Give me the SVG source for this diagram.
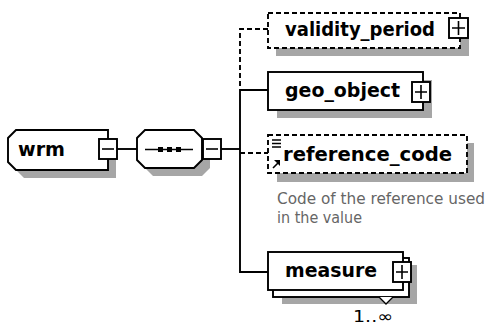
<svg xmlns="http://www.w3.org/2000/svg" width="494" height="325" viewBox="0 0 494 325">
<style>
.box{fill:#fff;stroke:#000;stroke-width:1.9}
.dash{stroke-dasharray:5 3}
.sh{fill:#a6a6a6;stroke:none}
.lbl{font-family:"DejaVu Sans",Verdana,sans-serif;font-weight:bold;font-size:20px;fill:#000}
.desc{font-family:"DejaVu Sans",Verdana,sans-serif;font-size:15px;fill:#666}
.con{fill:none;stroke:#000;stroke-width:1.9}
.sym{fill:none;stroke:#000;stroke-width:1.6}
</style>
<rect width="494" height="325" fill="#fff"/>
<g id="connectors">
<line class="con" x1="117" y1="149" x2="137" y2="149"/>
<line class="con" x1="221" y1="149" x2="240" y2="149"/>
<polyline class="con dash" points="268,29 240,29 240,88"/>
<polyline class="con" points="268,90 240,90 240,272 268,272"/>
<line class="con dash" x1="240" y1="153" x2="268" y2="153"/>
</g>
<g id="wrm">
<path class="sh" d="M24,138 H116 V178 H24 L16,170 V146 Z"/>
<path class="box" d="M16,130 H108 V170 H16 L8,162 V138 Z"/>
<text class="lbl" x="18" y="156" textLength="47" lengthAdjust="spacingAndGlyphs">wrm</text>
<rect class="box" x="99" y="139" width="18" height="20"/>
<line class="sym" x1="102" y1="149" x2="114" y2="149"/>
</g>
<g id="sequence">
<path class="sh" d="M153,138 H202 L210,146 V168 L202,176 H153 L145,168 V146 Z"/>
<path class="box" d="M145,130 H194 L202,138 V160 L194,168 H145 L137,160 V138 Z"/>
<line class="sym" x1="145" y1="149.5" x2="193" y2="149.5"/>
<rect x="158" y="147" width="5" height="5" fill="#000"/>
<rect x="167" y="147" width="5" height="5" fill="#000"/>
<rect x="176" y="147" width="5" height="5" fill="#000"/>
<rect class="box" x="203" y="139" width="18" height="20"/>
<line class="sym" x1="206" y1="149" x2="218" y2="149"/>
</g>
<g id="validity_period">
<rect class="sh" x="276" y="21" width="193" height="35"/>
<rect class="box dash" x="268" y="13" width="192" height="35"/>
<text class="lbl" x="285" y="36" textLength="150" lengthAdjust="spacingAndGlyphs">validity_period</text>
<rect class="box" x="449" y="18" width="19" height="20"/>
<path class="sym" d="M452,28 H465 M458.5,21 V35"/>
</g>
<g id="geo_object">
<rect class="sh" x="277" y="80" width="155" height="38"/>
<rect class="box" x="268" y="72" width="155" height="38"/>
<text class="lbl" x="285" y="97" textLength="115" lengthAdjust="spacingAndGlyphs">geo_object</text>
<rect class="box" x="412" y="82" width="18" height="20"/>
<path class="sym" d="M415,92 H427 M421,85 V99"/>
</g>
<g id="reference_code">
<rect class="sh" x="277" y="143" width="197" height="39"/>
<rect class="box dash" x="268" y="135" width="199" height="38"/>
<path class="sym" d="M272,140 H281 M272,143.5 H281 M272,147 H281" stroke-width="1.3"/>
<path d="M273,168 L279,162" class="sym" stroke-width="2"/>
<path d="M280,160 L280,166 L274,160 Z" fill="#000"/>
<text class="lbl" x="283" y="161" textLength="169" lengthAdjust="spacingAndGlyphs">reference_code</text>
<text class="desc" x="277" y="204" textLength="208" lengthAdjust="spacingAndGlyphs">Code of the reference used</text>
<text class="desc" x="277" y="223" textLength="85" lengthAdjust="spacingAndGlyphs">in the value</text>
</g>
<g id="measure">
<rect class="sh" x="282" y="265" width="135" height="39"/>
<rect class="box" x="273" y="258" width="136" height="39"/>
<rect class="box" x="268" y="252" width="135" height="38"/>
<text class="lbl" x="285" y="277" textLength="92" lengthAdjust="spacingAndGlyphs">measure</text>
<rect class="box" x="393" y="262" width="18" height="20"/>
<path class="sym" d="M396,272 H408 M402,265 V279"/>
<path d="M379,297 L386,304 L393,297" fill="#fff" stroke="#000" stroke-width="1.3"/>
<text x="353" y="322" font-family="DejaVu Sans,Verdana,sans-serif" font-size="16" fill="#000" textLength="40" lengthAdjust="spacingAndGlyphs">1..∞</text>
</g>
</svg>
